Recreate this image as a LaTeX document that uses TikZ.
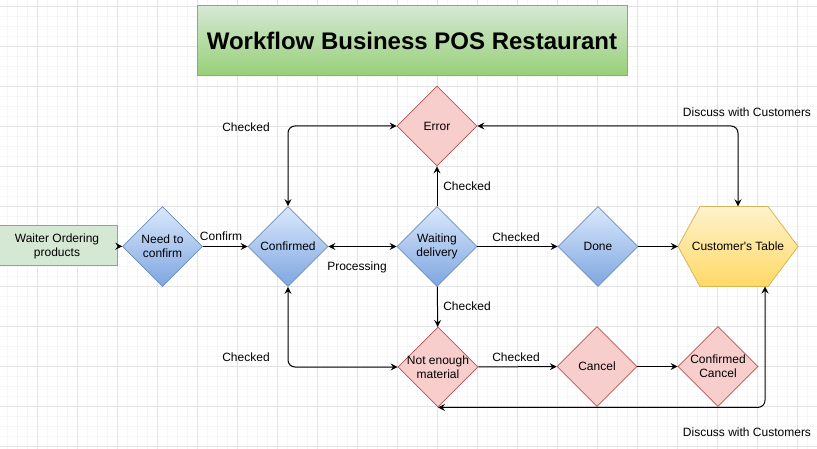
\documentclass[tikz,border=0pt]{standalone}
\usepackage{fontspec}
\setmainfont{Liberation Sans}
\usetikzlibrary{shapes.geometric,arrows.meta,calc}
\definecolor{gridmin}{HTML}{F6F6F6}
\definecolor{gridmaj}{HTML}{E4E4E4}
\definecolor{gfill}{HTML}{D5E8D4}
\definecolor{gdark}{HTML}{97D077}
\definecolor{gline}{HTML}{82B366}
\definecolor{bfill}{HTML}{DAE8FC}
\definecolor{bdark}{HTML}{7EA6E0}
\definecolor{bline}{HTML}{6C8EBF}
\definecolor{rfill}{HTML}{F8CECC}
\definecolor{rline}{HTML}{B85450}
\definecolor{yfill}{HTML}{FFF2CC}
\definecolor{ydark}{HTML}{FFD966}
\definecolor{yline}{HTML}{D6B656}
\tikzset{
  txt/.style={font=\fontsize{12}{14}\selectfont, align=center, inner sep=0pt, text=black},
  diam/.style={shape=diamond, minimum width=80pt, minimum height=80pt, inner sep=0pt, aspect=1, line width=0.8pt},
  bluediam/.style={diam, draw=bline, top color=bfill, bottom color=bdark},
  reddiam/.style={diam, draw=rline, fill=rfill},
  conn/.style={line width=1pt, draw=black, -{Stealth[length=7pt,width=7pt,inset=2.5pt]}},
  dconn/.style={line width=1pt, draw=black, {Stealth[length=7pt,width=7pt,inset=2.5pt]}-{Stealth[length=7pt,width=7pt,inset=2.5pt]}, rounded corners=7pt},
}
\begin{document}
\begin{tikzpicture}[x=1pt,y=-1pt]
\useasboundingbox (0,0) rectangle (817,449);
\fill[white] (0,0) rectangle (817,449);
% grid
\foreach \x in {-2.5,7.5,...,817} \draw[gridmin, line width=0.8pt] (\x,0) -- (\x,449);
\foreach \y in {-4,6,...,449} \draw[gridmin, line width=0.8pt] (0,\y) -- (817,\y);
\foreach \x in {-2.5,37.5,...,817} \draw[gridmaj, line width=0.8pt] (\x,0) -- (\x,449);
\foreach \y in {6,46,...,449} \draw[gridmaj, line width=0.8pt] (0,\y) -- (817,\y);

% title
\node[draw=gline, line width=1pt, top color=gfill, bottom color=gdark, minimum width=430pt, minimum height=70pt, inner sep=0pt,
  font=\fontsize{24}{28}\selectfont\bfseries] (title) at (412,41) {Workflow Business POS Restaurant};

% nodes
\node[draw=gline, line width=1pt, fill=gfill, minimum width=120pt, minimum height=40pt, txt] (wo) at (57,246) {Waiter Ordering\\products};
\node[bluediam, label={[txt]center:{Need to\\confirm}}] (nc) at (162.5,246.5) {};
\node[bluediam, label={[txt]center:{Confirmed}}] (cf) at (288,246.5) {};
\node[bluediam, label={[txt]center:{Waiting\\delivery}}] (wd) at (437,246.5) {};
\node[bluediam, label={[txt]center:{Done}}] (dn) at (598,246.5) {};
\node[reddiam, label={[txt]center:{Error}}] (er) at (437,126) {};
\node[reddiam, label={[txt]center:{Not enough\\material}}] (ne) at (438,367) {};
\node[reddiam, label={[txt]center:{Cancel}}] (ca) at (597,366.5) {};
\node[reddiam, label={[txt]center:{Confirmed\\Cancel}}] (cc) at (718,366.5) {};
% hexagon
\shade[top color=yfill, bottom color=ydark, draw=yline, line width=0.8pt]
  (678,246.5) -- (700,206.5) -- (768,206.5) -- (798,246.5) -- (768,286.5) -- (700,286.5) -- cycle;
\node[minimum width=120pt, minimum height=80pt, inner sep=0pt, txt] (ct) at (738,246.5) {Customer\textquotesingle s Table};
\coordinate (ctb) at (765,286.5);

% connectors
\draw[conn] (wo) -- (nc);
\draw[conn] (nc) -- (cf);
\draw[dconn] (cf) -- (wd);
\draw[conn] (wd) -- (er);
\draw[conn] (wd) -- (dn);
\draw[conn] (dn) -- (ct);
\draw[conn] (wd) -- (ne);
\draw[conn] (ne) -- (ca);
\draw[conn] (ca) -- (cc);
\draw[dconn] (cf.north) |- (er.west);
\draw[dconn] (cf.south) |- (ne.west);
\draw[dconn] (er.east) -| (ct.north);
\draw[dconn] (ctb) |- (ne.south);

% labels
\node[txt] (l1) at (221,236) {Confirm};
\node[txt] (l2) at (357,267) {Processing};
\node[txt] (l3) at (467,186.5) {Checked};
\node[txt] (l4) at (516,237) {Checked};
\node[txt] (l5) at (467,306.5) {Checked};
\node[txt] (l6) at (516,357) {Checked};
\node[txt] (l7) at (246,127) {Checked};
\node[txt] (l8) at (246,357) {Checked};
\node[txt] (l9) at (747,112) {Discuss with Customers};
\node[txt] (l10) at (747,432) {Discuss with Customers};
\end{tikzpicture}
\end{document}
